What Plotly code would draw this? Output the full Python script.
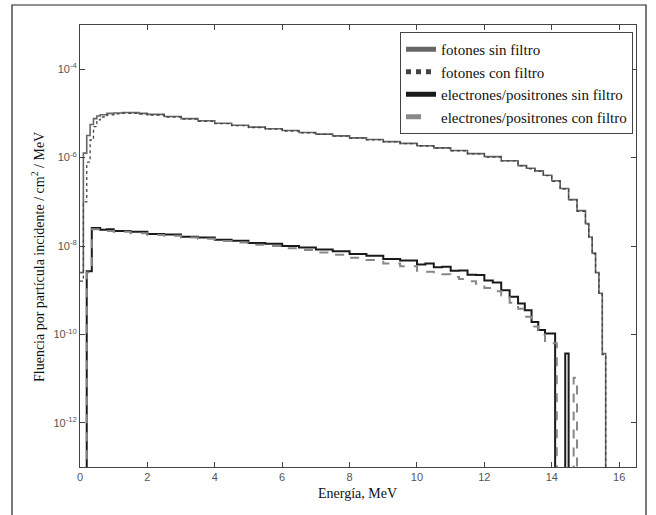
import plotly.graph_objects as go

# ---------------- data ----------------
energia_fotones = [0.0, 0.1, 0.2, 0.3, 0.4, 0.5, 0.6, 0.8, 1.0, 1.25, 1.5, 1.75, 2.0, 2.5,
                   3.0, 3.5, 4.0, 4.5, 5.0, 5.5, 6.0, 6.5, 7.0, 7.5, 8.0, 8.5, 9.0, 9.5,
                   10.0, 10.5, 11.0, 11.5, 12.0, 12.5, 13.0, 13.25, 13.5, 13.75, 14.0,
                   14.25, 14.5, 14.75, 15.0, 15.1, 15.2, 15.3, 15.4, 15.5, 15.6, 16.0]

fotones_sin_filtro = [2.5e-9, 1.26e-6, 3.16e-6, 5.6e-6, 7.6e-6, 8.7e-6, 9.3e-6, 1.0e-5, 1.02e-5,
                      1.05e-5, 1.04e-5, 1.0e-5, 9.5e-6, 8.5e-6, 7.6e-6, 6.8e-6, 6.0e-6, 5.4e-6,
                      4.9e-6, 4.5e-6, 4.1e-6, 3.7e-6, 3.4e-6, 3.1e-6, 2.8e-6, 2.57e-6, 2.3e-6,
                      2.1e-6, 1.86e-6, 1.66e-6, 1.45e-6, 1.23e-6, 1.05e-6, 8.5e-7, 6.6e-7,
                      5.75e-7, 5.0e-7, 4.0e-7, 3.0e-7, 2.0e-7, 1.12e-7, 6.3e-8, 3.2e-8, 1.6e-8,
                      6.9e-9, 2.5e-9, 8.5e-10, 3.7e-11, 0, 0]

fotones_con_filtro = [1.6e-9, 1.0e-7, 7.9e-7, 2.5e-6, 5.0e-6, 7.1e-6, 8.3e-6, 9.3e-6, 9.8e-6,
                      1.0e-5, 1.0e-5, 9.7e-6, 9.2e-6, 8.3e-6, 7.4e-6, 6.6e-6, 5.9e-6, 5.3e-6,
                      4.8e-6, 4.4e-6, 4.0e-6, 3.65e-6, 3.35e-6, 3.05e-6, 2.75e-6, 2.52e-6,
                      2.27e-6, 2.07e-6, 1.83e-6, 1.63e-6, 1.43e-6, 1.21e-6, 1.03e-6, 8.4e-7,
                      6.5e-7, 5.6e-7, 4.9e-7, 3.9e-7, 2.9e-7, 1.95e-7, 1.1e-7, 6.1e-8, 3.1e-8,
                      1.5e-8, 6.6e-9, 2.4e-9, 8.0e-10, 3.5e-11, 0, 0]

energia_e_sin = [0.0, 0.2, 0.35, 0.6, 0.8, 1.0, 1.5, 2.0, 2.5, 3.0, 3.5, 4.0, 4.5, 5.0, 5.5,
                 6.0, 6.5, 7.0, 7.5, 8.0, 8.5, 9.0, 9.5, 10.0, 10.25, 10.5, 10.75, 11.0,
                 11.25, 11.5, 11.75, 12.0, 12.25, 12.5, 12.75, 13.0, 13.2, 13.4, 13.6, 13.8,
                 14.0, 14.1, 14.4, 14.5, 16.0]

electrones_sin_filtro = [0, 2.7e-9, 2.57e-8, 2.34e-8, 2.4e-8, 2.19e-8, 2.09e-8, 1.86e-8, 1.82e-8,
                         1.62e-8, 1.55e-8, 1.38e-8, 1.32e-8, 1.17e-8, 1.12e-8, 1.0e-8, 9.3e-9,
                         8.3e-9, 7.6e-9, 6.6e-9, 6.0e-9, 5.1e-9, 4.7e-9, 3.8e-9, 4.0e-9, 3.3e-9,
                         3.4e-9, 2.75e-9, 2.8e-9, 2.24e-9, 2.2e-9, 1.66e-9, 1.5e-9, 1.0e-9,
                         7.1e-10, 5.0e-10, 3.5e-10, 1.9e-10, 1.26e-10, 1.05e-10, 1.05e-10, 0,
                         3.7e-11, 0, 0]

energia_e_con = [0.0, 0.2, 0.35, 0.6, 0.8, 1.0, 1.5, 2.0, 2.5, 3.0, 3.5, 4.0, 4.5, 5.0, 5.5,
                 6.0, 6.5, 7.0, 7.5, 8.0, 8.5, 9.0, 9.5, 10.0, 10.25, 10.5, 10.75, 11.0,
                 11.25, 11.5, 11.75, 12.0, 12.25, 12.5, 12.75, 13.0, 13.2, 13.4, 13.6, 13.8,
                 14.0, 14.15, 14.65, 14.75, 16.0]

electrones_con_filtro = [0, 2.5e-9, 2.4e-8, 2.24e-8, 2.19e-8, 2.09e-8, 1.95e-8, 1.78e-8, 1.7e-8,
                         1.55e-8, 1.45e-8, 1.29e-8, 1.2e-8, 1.07e-8, 1.0e-8, 8.9e-9, 8.1e-9,
                         7.1e-9, 6.3e-9, 5.4e-9, 4.8e-9, 4.0e-9, 3.5e-9, 2.75e-9, 2.6e-9,
                         2.34e-9, 2.3e-9, 2.0e-9, 1.8e-9, 1.6e-9, 1.4e-9, 1.12e-9, 9.5e-10,
                         7.6e-10, 5.2e-10, 3.8e-10, 2.5e-10, 1.5e-10, 1.0e-10, 7.1e-11, 6.3e-11,
                         0, 1.05e-11, 0, 0]

series_names = ["fotones sin filtro", "fotones con filtro",
                "electrones/positrones sin filtro", "electrones/positrones con filtro"]

y_tickvals = [1e-12, 1e-10, 1e-8, 1e-6, 1e-4]
y_ticktext = ["10<sup>-12</sup>", "10<sup>-10</sup>", "10<sup>-8</sup>",
              "10<sup>-6</sup>", "10<sup>-4</sup>"]
x_tickvals = [0, 2, 4, 6, 8, 10, 12, 14, 16]

FLOOR = 1e-20  # zero counts drawn below the visible log range
SERIF = "Liberation Serif"


def floor(vals):
    return [v if v > 0 else FLOOR for v in vals]


fig = go.Figure()
fig.add_trace(go.Scatter(x=energia_fotones, y=floor(fotones_sin_filtro), name=series_names[0],
                         mode="lines", line=dict(color="#666666", width=1.6, shape="hv")))
fig.add_trace(go.Scatter(x=energia_fotones, y=floor(fotones_con_filtro), name=series_names[1],
                         mode="lines", line=dict(color="#444444", width=1.3, shape="hv", dash="dot")))
fig.add_trace(go.Scatter(x=energia_e_sin, y=floor(electrones_sin_filtro), name=series_names[2],
                         mode="lines", line=dict(color="#1a1a1a", width=2.0, shape="hv")))
fig.add_trace(go.Scatter(x=energia_e_con, y=floor(electrones_con_filtro), name=series_names[3],
                         mode="lines", line=dict(color="#888888", width=2.0, shape="hv", dash="dash")))

L, R, T, B = 80, 20, 25, 48
W, H = 656, 515
pw, ph = W - L - R, H - T - B


def px(xp):
    return (xp - L) / pw


def py(yp):
    return (H - B - yp) / ph


axis_common = dict(showline=True, linecolor="#444444", linewidth=1, mirror="ticks",
                   ticks="inside", ticklen=5, tickcolor="#444444", showgrid=False,
                   zeroline=False, tickfont=dict(family="Arial", size=11, color="#555555"))

fig.update_xaxes(range=[0, 16.5], tickvals=x_tickvals, **axis_common)
fig.update_yaxes(type="log", range=[-13, -3], tickvals=y_tickvals, ticktext=y_ticktext,
                 **axis_common)

fig.update_layout(
    width=W, height=H,
    font=dict(family=SERIF, color="#111111"),
    margin=dict(l=L, r=R, t=T, b=B, autoexpand=False),
    paper_bgcolor="white", plot_bgcolor="white",
    showlegend=True,
    legend=dict(x=px(633), y=py(32), xanchor="right", yanchor="top",
                bgcolor="white", bordercolor="#444444", borderwidth=1,
                font=dict(family=SERIF, size=15, color="#111111"),
                tracegroupgap=0, itemsizing="constant"),
    annotations=[
        dict(text="Energía, MeV", x=px(357), y=py(493), xref="paper", yref="paper",
             showarrow=False, font=dict(family=SERIF, size=14, color="#111111"),
             xanchor="center", yanchor="middle"),
        dict(text="Fluencia por partícula incidente / cm<sup>2</sup> / MeV", x=px(38), y=py(257),
             xref="paper", yref="paper", textangle=-90, showarrow=False,
             font=dict(family=SERIF, size=14, color="#111111"),
             xanchor="center", yanchor="middle"),
    ],
    shapes=[
        dict(type="rect", xref="paper", yref="paper", x0=px(12), x1=px(646), y0=py(530), y1=py(5),
             line=dict(color="#222222", width=1.2), fillcolor="rgba(0,0,0,0)", layer="below"),
    ],
)

fig.write_html("out.html")
